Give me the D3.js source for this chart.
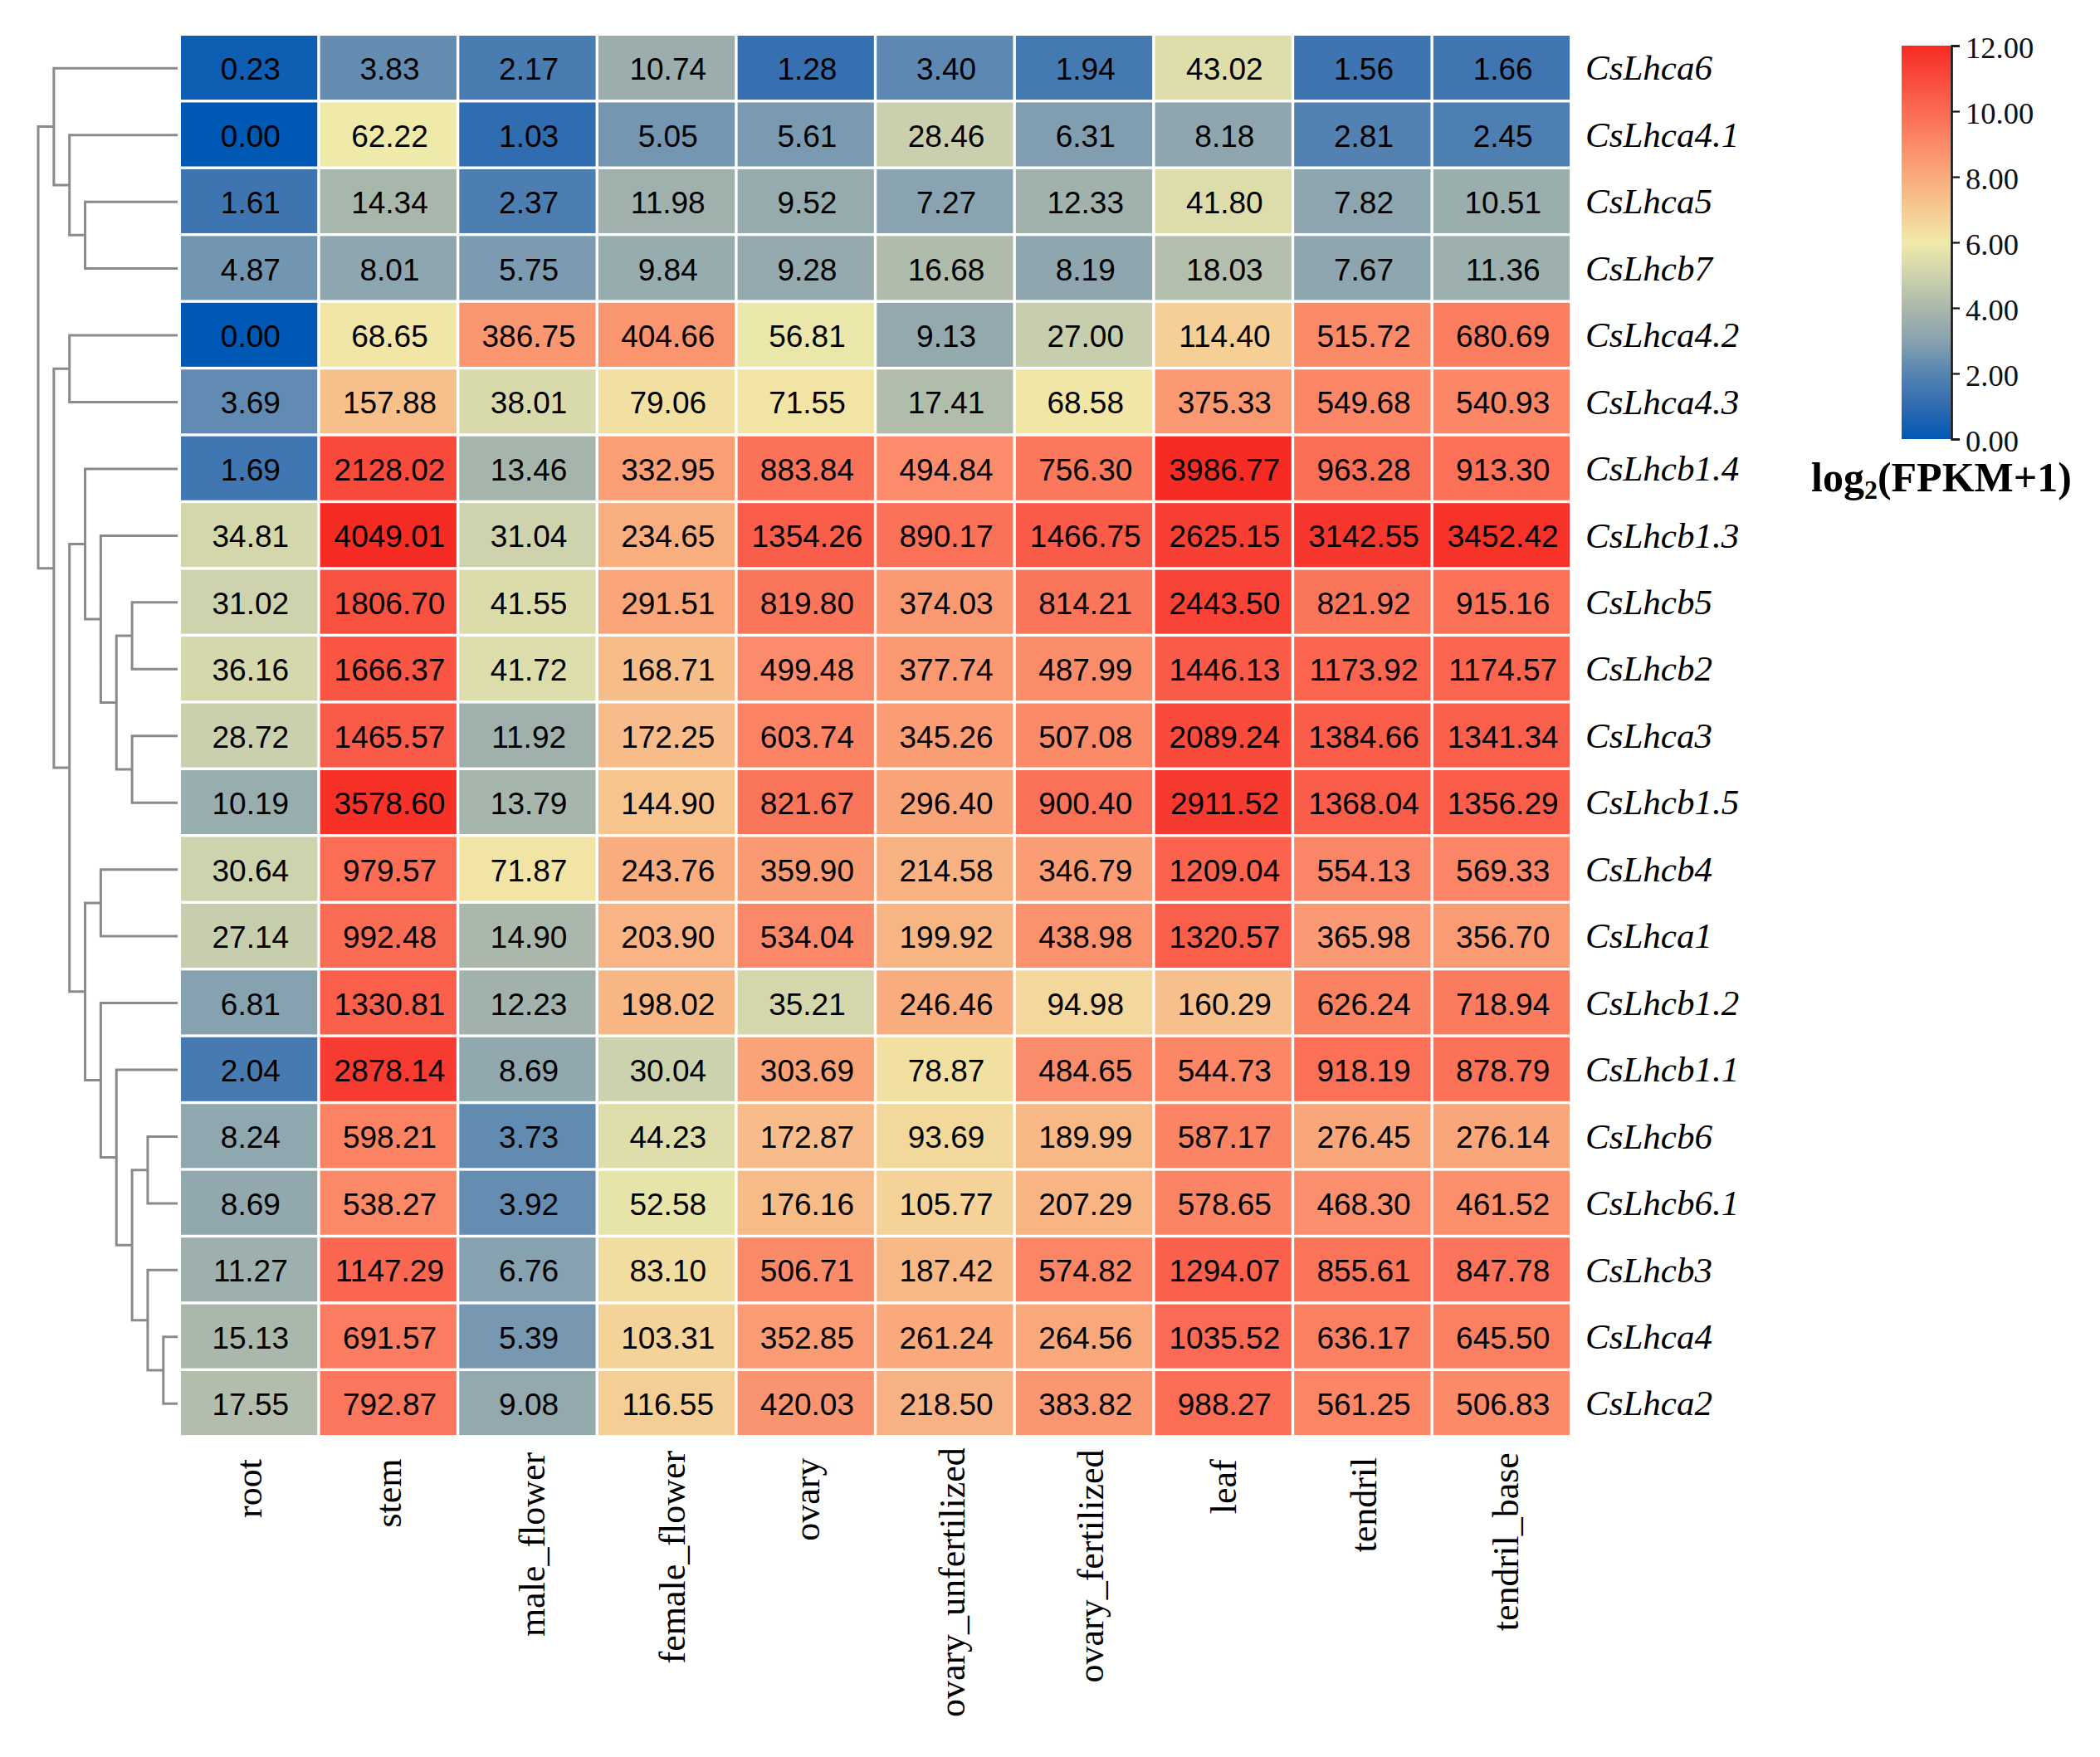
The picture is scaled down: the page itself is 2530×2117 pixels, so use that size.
<!DOCTYPE html>
<html>
<head>
<meta charset="utf-8">
<script src="https://cdn.jsdelivr.net/npm/d3@7/dist/d3.min.js"></script>
<style>
html,body{margin:0;padding:0;background:#fff;}
svg{display:block;}
</style>
</head>
<body>
<svg id="chart" width="2530" height="2117"></svg>
<script>
const tissues = ["root","stem","male_flower","female_flower","ovary","ovary_unfertilized","ovary_fertilized","leaf","tendril","tendril_base"];
const genes = ["CsLhca6","CsLhca4.1","CsLhca5","CsLhcb7","CsLhca4.2","CsLhca4.3","CsLhcb1.4","CsLhcb1.3","CsLhcb5","CsLhcb2","CsLhca3","CsLhcb1.5","CsLhcb4","CsLhca1","CsLhcb1.2","CsLhcb1.1","CsLhcb6","CsLhcb6.1","CsLhcb3","CsLhca4","CsLhca2"];

const rowLhca6   = [0.23,3.83,2.17,10.74,1.28,3.40,1.94,43.02,1.56,1.66];
const rowLhca41  = [0.00,62.22,1.03,5.05,5.61,28.46,6.31,8.18,2.81,2.45];
const rowLhca5   = [1.61,14.34,2.37,11.98,9.52,7.27,12.33,41.80,7.82,10.51];
const rowLhcb7   = [4.87,8.01,5.75,9.84,9.28,16.68,8.19,18.03,7.67,11.36];
const rowLhca42  = [0.00,68.65,386.75,404.66,56.81,9.13,27.00,114.40,515.72,680.69];
const rowLhca43  = [3.69,157.88,38.01,79.06,71.55,17.41,68.58,375.33,549.68,540.93];
const rowLhcb14  = [1.69,2128.02,13.46,332.95,883.84,494.84,756.30,3986.77,963.28,913.30];
const rowLhcb13  = [34.81,4049.01,31.04,234.65,1354.26,890.17,1466.75,2625.15,3142.55,3452.42];
const rowLhcb5   = [31.02,1806.70,41.55,291.51,819.80,374.03,814.21,2443.50,821.92,915.16];
const rowLhcb2   = [36.16,1666.37,41.72,168.71,499.48,377.74,487.99,1446.13,1173.92,1174.57];
const rowLhca3   = [28.72,1465.57,11.92,172.25,603.74,345.26,507.08,2089.24,1384.66,1341.34];
const rowLhcb15  = [10.19,3578.60,13.79,144.90,821.67,296.40,900.40,2911.52,1368.04,1356.29];
const rowLhcb4   = [30.64,979.57,71.87,243.76,359.90,214.58,346.79,1209.04,554.13,569.33];
const rowLhca1   = [27.14,992.48,14.90,203.90,534.04,199.92,438.98,1320.57,365.98,356.70];
const rowLhcb12  = [6.81,1330.81,12.23,198.02,35.21,246.46,94.98,160.29,626.24,718.94];
const rowLhcb11  = [2.04,2878.14,8.69,30.04,303.69,78.87,484.65,544.73,918.19,878.79];
const rowLhcb6   = [8.24,598.21,3.73,44.23,172.87,93.69,189.99,587.17,276.45,276.14];
const rowLhcb61  = [8.69,538.27,3.92,52.58,176.16,105.77,207.29,578.65,468.30,461.52];
const rowLhcb3   = [11.27,1147.29,6.76,83.10,506.71,187.42,574.82,1294.07,855.61,847.78];
const rowLhca4   = [15.13,691.57,5.39,103.31,352.85,261.24,264.56,1035.52,636.17,645.50];
const rowLhca2   = [17.55,792.87,9.08,116.55,420.03,218.50,383.82,988.27,561.25,506.83];
const expression = [rowLhca6,rowLhca41,rowLhca5,rowLhcb7,rowLhca42,rowLhca43,rowLhcb14,rowLhcb13,rowLhcb5,rowLhcb2,rowLhca3,rowLhcb15,rowLhcb4,rowLhca1,rowLhcb12,rowLhcb11,rowLhcb6,rowLhcb61,rowLhcb3,rowLhca4,rowLhca2];

// Gene clustering tree
const clusterTree = [
  ["CsLhca6", ["CsLhca4.1", ["CsLhca5","CsLhcb7"]]],
  [["CsLhca4.2","CsLhca4.3"],
   [["CsLhcb1.4", ["CsLhcb1.3", [["CsLhcb5","CsLhcb2"],["CsLhca3","CsLhcb1.5"]]]],
    [["CsLhcb4","CsLhca1"],
     ["CsLhcb1.2", ["CsLhcb1.1", [["CsLhcb6","CsLhcb6.1"],["CsLhcb3",["CsLhca4","CsLhca2"]]]]]]]]
];
const legendTicks = [0,2,4,6,8,10,12];
const colorDomain = [0,1,2,3,4,5,6,7,8,9,10,11,12];
const colorStops = ["#0058b5","#2f6bb0","#5684b2","#88a2b0","#aab8ab","#ced3ad","#f0eaa9","#f6ca92","#f9aa7d","#fb8a69","#fb6b54","#f94b3c","#f62a23"];

const svg = d3.select("#chart");
const heatL=218, heatR=1894.5, heatT=43, heatB=1732.5;
const x = d3.scaleBand().domain(tissues).range([heatL,heatR]);
const y = d3.scaleBand().domain(genes).range([heatT,heatB]);
const color = d3.scaleLinear().domain(colorDomain).range(colorStops).clamp(true);
const fmt = d3.format(".2f");

svg.append("rect").attr("width",2530).attr("height",2117).attr("fill","#fff");

// cells
const cells = genes.flatMap((g,i)=>tissues.map((t,j)=>({g,t,v:expression[i][j]})));
const gap = 3.4;
svg.append("g").selectAll("rect").data(cells).join("rect")
  .attr("x",d=>x(d.t)+gap/2-1.7).attr("y",d=>y(d.g)+gap/2-1.7)
  .attr("width",x.bandwidth()-gap).attr("height",y.bandwidth()-gap)
  .attr("fill",d=>color(Math.log2(d.v+1)));

svg.append("g").attr("font-family","'Liberation Sans',Arial,sans-serif").attr("font-size",37).attr("fill","#000")
  .selectAll("text").data(cells).join("text")
  .attr("x",d=>x(d.t)+x.bandwidth()/2)
  .attr("y",d=>y(d.g)+y.bandwidth()/2)
  .attr("dy","0.35em")
  .attr("text-anchor","middle")
  .text(d=>fmt(d.v));

// row labels
svg.append("g").attr("font-family","'Liberation Serif','Times New Roman',serif").attr("font-style","italic").attr("font-size",43).attr("fill","#000")
  .selectAll("text").data(genes).join("text")
  .attr("x",1910)
  .attr("y",d=>y(d)+y.bandwidth()/2-1)
  .attr("dy","0.33em")
  .text(d=>d);

// column labels
svg.append("g").attr("font-family","'Liberation Serif','Times New Roman',serif").attr("font-size",44).attr("fill","#000")
  .selectAll("text").data(tissues).join("text")
  .attr("text-anchor","end")
  .text(d=>d)
  .attr("transform",function(d){
    const len=this.getComputedTextLength();
    const cx=x(d)+x.bandwidth()/2+11+0.035*len;
    const cy=1762-0.055*len;
    return `translate(${cx},${cy}) rotate(-90)`;
  });

// dendrogram
const root = d3.hierarchy(clusterTree, d=>Array.isArray(d)?d:null);
const level = d3.scaleLinear().domain([0,1]).range([46,46+18.85]);
const leafEnd = 214;
root.eachAfter(n=>{
  if(n.children){ n.yPos=(n.children[0].yPos+n.children[1].yPos)/2; n.xPos=level(n.depth); }
  else { n.yPos=y(n.data)+y.bandwidth()/2-1; n.xPos=leafEnd; }
});
const linkPath = d3.path();
root.each(n=>{
  if(!n.children) return;
  const [a,b]=n.children;
  linkPath.moveTo(a.xPos,a.yPos); linkPath.lineTo(n.xPos,a.yPos);
  linkPath.lineTo(n.xPos,b.yPos); linkPath.lineTo(b.xPos,b.yPos);
});
svg.append("path").attr("d",linkPath.toString()).attr("fill","none").attr("stroke","#8a8a8a").attr("stroke-width",3);

// legend
const lgT=55, lgB=529, lgL=2291, lgR=2350;
const lgScale = d3.scaleLinear().domain([0,12]).range([lgB,lgT]);
const defs = svg.append("defs");
const grad = defs.append("linearGradient").attr("id","lg").attr("x1",0).attr("x2",0).attr("y1",1).attr("y2",0);
grad.selectAll("stop").data(colorDomain).join("stop")
  .attr("offset",d=>d/12).attr("stop-color",d=>color(d));
svg.append("rect").attr("x",lgL).attr("y",lgT).attr("width",lgR-lgL).attr("height",lgB-lgT).attr("fill","url(#lg)");
const axis = d3.axisRight(lgScale).tickValues(legendTicks).tickFormat(fmt).tickSize(10).tickPadding(7);
const ax = svg.append("g").attr("transform",`translate(${lgR+1},0)`).call(axis);
ax.select(".domain").attr("stroke","#111").attr("stroke-width",2.6);
ax.selectAll(".tick line").attr("stroke","#111").attr("stroke-width",2.2);
ax.selectAll(".tick text").attr("font-family","'Liberation Serif','Times New Roman',serif").attr("font-size",36.5).attr("fill","#111").attr("dy","0.40em");

const title = svg.append("text").attr("x",2182).attr("y",592)
  .attr("font-family","'Liberation Serif','Times New Roman',serif").attr("font-weight","bold").attr("font-size",50).attr("fill","#000");
title.append("tspan").text("log");
title.append("tspan").attr("font-size",32).attr("dy",9).text("2");
title.append("tspan").attr("dy",-9).text("(FPKM+1)");
</script>
</body>
</html>
